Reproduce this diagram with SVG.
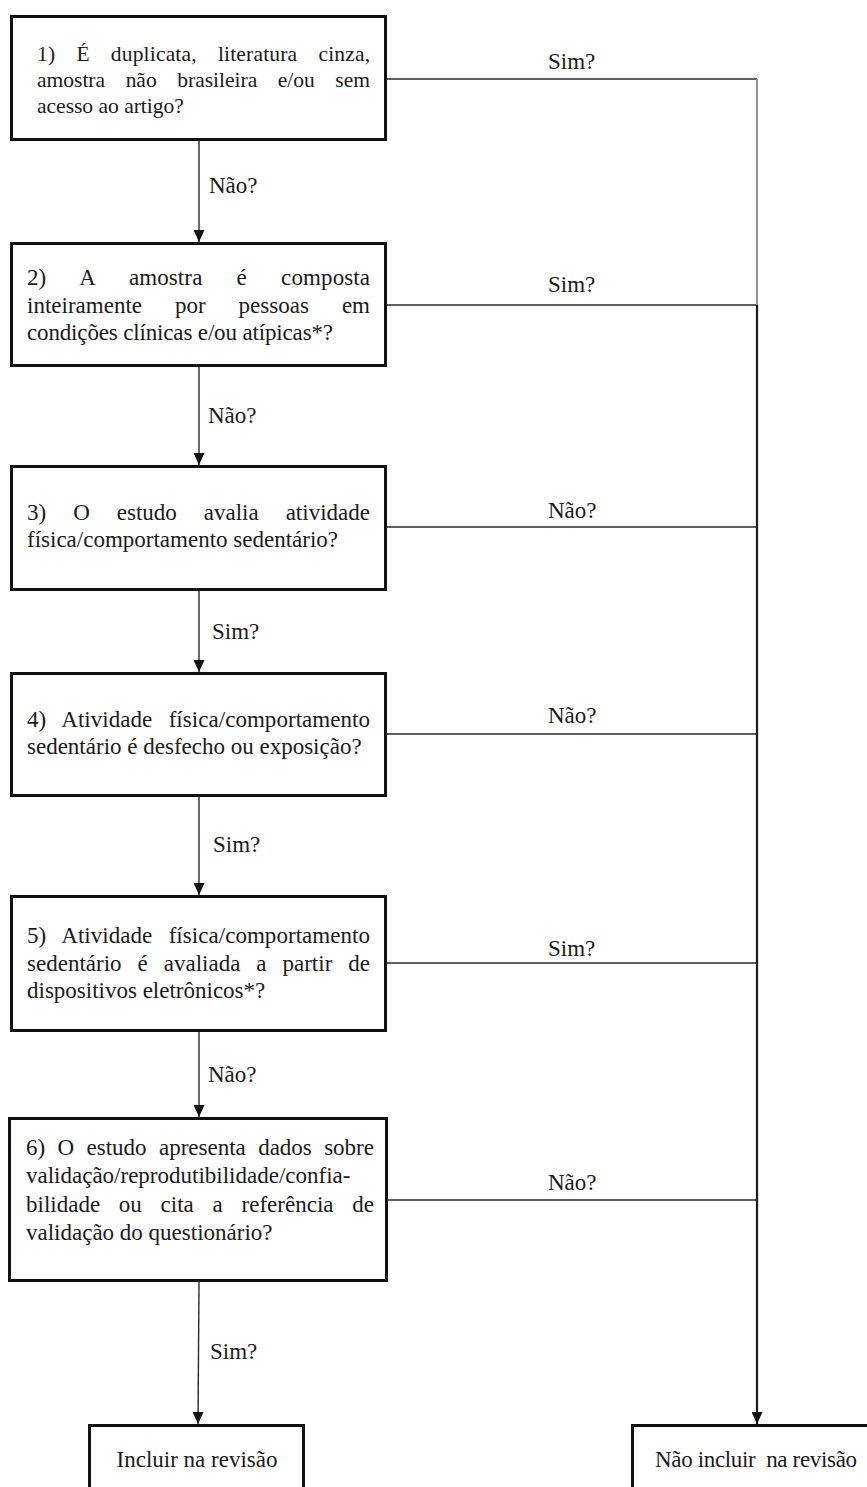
<svg xmlns="http://www.w3.org/2000/svg" width="867" height="1487" viewBox="0 0 867 1487">
<style>
  .box { fill: #ffffff; stroke: #111111; stroke-width: 3; }
  .t { font-family: "Liberation Serif", "Times New Roman", serif; font-size: 23px; fill: #1a1a1a; }
  .t1 { font-family: "Liberation Serif", "Times New Roman", serif; font-size: 21.5px; fill: #1a1a1a; }
  .lbl { font-family: "Liberation Serif", "Times New Roman", serif; font-size: 23px; fill: #1a1a1a; }
  .c { fill: none; stroke: #2a2a2a; stroke-width: 1.4; }
  .trunk { fill: none; stroke: #1a1a1a; stroke-width: 2.2; }
</style>
<defs>
  <marker id="arr" markerUnits="userSpaceOnUse" markerWidth="12" markerHeight="11" refX="12" refY="5.5" orient="auto">
    <path d="M0,0 L12,5.5 L0,11 z" fill="#111111"/>
  </marker>
</defs>
<rect width="867" height="1487" fill="#ffffff"/>

<g id="connectors">
  <line class="c" x1="199" y1="141" x2="199" y2="242" marker-end="url(#arr)"/>
  <line class="c" x1="199" y1="367" x2="199" y2="465" marker-end="url(#arr)"/>
  <line class="c" x1="199" y1="591" x2="199" y2="672" marker-end="url(#arr)"/>
  <line class="c" x1="199" y1="797" x2="199" y2="895" marker-end="url(#arr)"/>
  <line class="c" x1="199" y1="1032" x2="199" y2="1117" marker-end="url(#arr)"/>
  <line class="c" x1="199" y1="1282" x2="198" y2="1424" marker-end="url(#arr)"/>
  <line class="c" x1="387" y1="79" x2="757" y2="79"/>
  <line class="c" x1="387" y1="305" x2="757" y2="305"/>
  <line class="c" x1="387" y1="527" x2="757" y2="527"/>
  <line class="c" x1="387" y1="734" x2="757" y2="734"/>
  <line class="c" x1="387" y1="963" x2="757" y2="963"/>
  <line class="c" x1="388" y1="1200" x2="757" y2="1200"/>
  <line x1="757" y1="79" x2="757" y2="305" stroke="#8a8a8a" stroke-width="1.8"/>
  <line class="trunk" x1="757" y1="305" x2="757" y2="1424" marker-end="url(#arr)"/>
  <text class="lbl" x="548" y="69">Sim?</text>
  <text class="lbl" x="548" y="292">Sim?</text>
  <text class="lbl" x="548" y="518">Não?</text>
  <text class="lbl" x="548" y="723">Não?</text>
  <text class="lbl" x="548" y="956">Sim?</text>
  <text class="lbl" x="548" y="1190">Não?</text>
  <text class="lbl" x="209" y="193">Não?</text>
  <text class="lbl" x="208" y="423">Não?</text>
  <text class="lbl" x="212" y="639">Sim?</text>
  <text class="lbl" x="213" y="852">Sim?</text>
  <text class="lbl" x="208" y="1082">Não?</text>
  <text class="lbl" x="210" y="1359">Sim?</text>
</g>

<g id="node1">
  <rect class="box" x="11.5" y="16.5" width="374" height="123"/>
  <text class="t1" x="37" y="61" word-spacing="15.6" textLength="333" lengthAdjust="spacing">1) É duplicata, literatura cinza,</text>
  <text class="t1" x="37" y="87" word-spacing="15.2" textLength="333" lengthAdjust="spacing">amostra não brasileira e/ou sem</text>
  <text class="t1" x="37" y="113">acesso ao artigo?</text>
</g>

<g id="node2">
  <rect class="box" x="11.5" y="243.5" width="374" height="122"/>
  <text class="t" x="27" y="285" word-spacing="28.3" textLength="343" lengthAdjust="spacing">2) A amostra é composta</text>
  <text class="t" x="27" y="313" word-spacing="27.2" textLength="343" lengthAdjust="spacing">inteiramente por pessoas em</text>
  <text class="t" x="27" y="340" textLength="306" lengthAdjust="spacing">condições clínicas e/ou atípicas*?</text>
</g>

<g id="node3">
  <rect class="box" x="11.5" y="466.5" width="374" height="123"/>
  <text class="t" x="27" y="520" word-spacing="21.2" textLength="343" lengthAdjust="spacing">3) O estudo avalia atividade</text>
  <text class="t" x="27" y="547">física/comportamento sedentário?</text>
</g>

<g id="node4">
  <rect class="box" x="11.5" y="673.5" width="374" height="122"/>
  <text class="t" x="27" y="727" word-spacing="10.5" textLength="343" lengthAdjust="spacing">4) Atividade física/comportamento</text>
  <text class="t" x="27" y="754">sedentário é desfecho ou exposição?</text>
</g>

<g id="node5">
  <rect class="box" x="11.5" y="896.5" width="374" height="134"/>
  <text class="t" x="27" y="943" word-spacing="10.5" textLength="343" lengthAdjust="spacing">5) Atividade física/comportamento</text>
  <text class="t" x="27" y="971" word-spacing="10.2" textLength="343" lengthAdjust="spacing">sedentário é avaliada a partir de</text>
  <text class="t" x="27" y="998">dispositivos eletrônicos*?</text>
</g>

<g id="node6">
  <rect class="box" x="9.5" y="1118.5" width="377" height="162"/>
  <text class="t" x="26" y="1155" word-spacing="6.6" textLength="348" lengthAdjust="spacing">6) O estudo apresenta dados sobre</text>
  <text class="t" x="26" y="1183">validação/reprodutibilidade/confia-</text>
  <text class="t" x="26" y="1212" word-spacing="13" textLength="348" lengthAdjust="spacing">bilidade ou cita a referência de</text>
  <text class="t" x="26" y="1240">validação do questionário?</text>
</g>

<g id="node-incluir">
  <rect class="box" x="89.5" y="1425.5" width="214" height="80"/>
  <text class="t" x="197" y="1467" text-anchor="middle">Incluir na revisão</text>
</g>

<g id="node-nao-incluir">
  <rect class="box" x="632.5" y="1425.5" width="300" height="80"/>
  <text class="t" x="655" y="1467" xml:space="preserve" textLength="202" lengthAdjust="spacing">Não incluir  na revisão</text>
</g>
</svg>
